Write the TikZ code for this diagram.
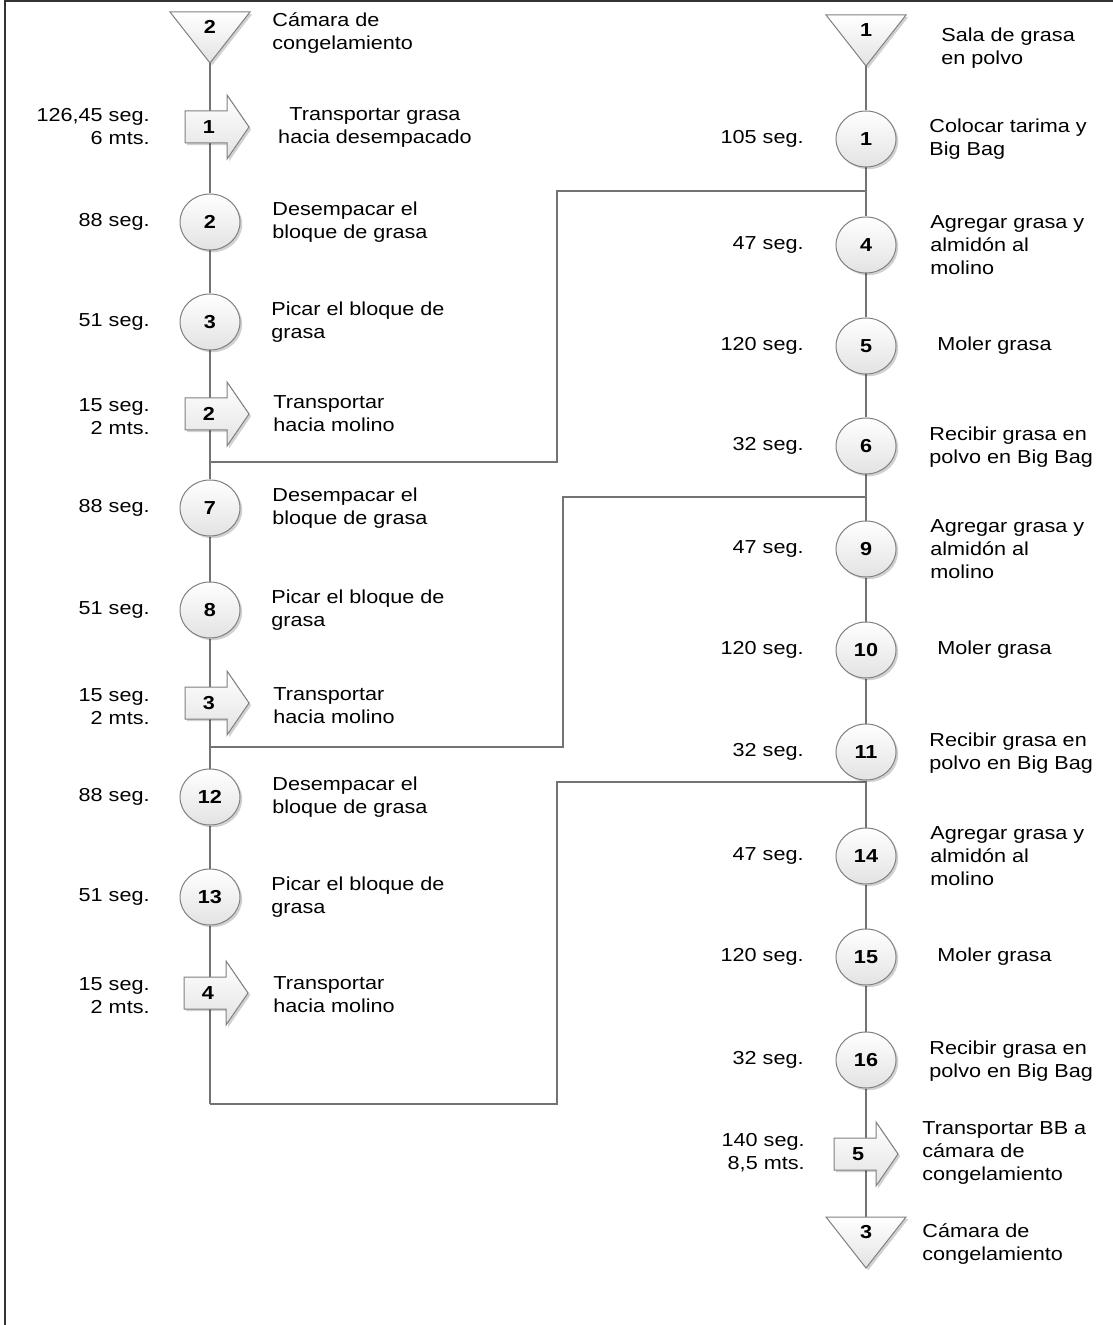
\documentclass[tikz,border=0pt]{standalone}
\usepackage{fontspec}
\setmainfont{Liberation Sans}[FakeStretch=1.15]
\usetikzlibrary{shapes.geometric,shadows,backgrounds}
\pgfdeclarelayer{paper}
\pgfdeclarelayer{background}
\pgfsetlayers{paper,background,main}
\tikzset{
  conn/.style={draw=black!55, line width=0.75pt},
  shp/.style={draw=black!50, line width=0.5pt, top color=white, bottom color=black!11,
    drop shadow={shadow xshift=1.1pt, shadow yshift=-1.1pt, opacity=0.18, fill=black}},
  opn/.style={shp, ellipse, minimum width=30pt, minimum height=28pt, inner sep=0pt,
    font=\fontsize{9.4}{11}\selectfont\bfseries},
  num/.style={inner sep=0pt, font=\fontsize{9.4}{11}\selectfont\bfseries},
  desc/.style={anchor=west, align=left, inner sep=0pt, font=\fontsize{9.4}{11.5}\selectfont},
  tim/.style={anchor=east, align=right, inner sep=0pt, font=\fontsize{9.4}{11.5}\selectfont},
}
\newcommand\storagetri[4]{%
  \path[shp] (#2-40,#3) -- (#2+40,#3) -- (#2,#3+51) -- cycle;
  \coordinate (#1) at (#2,#3+51);
  \node[num] (#1n) at (#2,#3+15) {#4};}
\newcommand\transparrow[4]{%
  \path[shp] (#2,#3-16) -- (#2+42,#3-16) -- (#2+42,#3-32) -- (#2+64,#3)
     -- (#2+42,#3+32) -- (#2+42,#3+16) -- (#2,#3+16) -- cycle;
  \node[num] (#1) at (#2+24,#3) {#4};}
\begin{document}
\begin{tikzpicture}[x=0.5pt,y=-0.5pt]
\useasboundingbox (0,0) rectangle (1112,1325);
\begin{pgfonlayer}{paper}
\fill[white] (0,0) rectangle (1112,1325);
\end{pgfonlayer}
\draw[line width=1pt, black!80] (5,1330) -- (5,1) -- (1116,1) -- (1116,1330);

% ---------- left column ----------
\storagetri{tL}{210}{12}{2}
\node[desc] (dL0) at (272,33) {Cámara de\\congelamiento};
\transparrow{aL1}{185}{127}{1}
\node[tim] (tL1) at (150,127) {126,45 seg.\\6 mts.};
\node[align=center, inner sep=0pt, font=\fontsize{9.4}{11.5}\selectfont] (dL1) at (375,127) {Transportar grasa\\hacia desempacado};

\node[opn] (c2) at (210,222) {2};
\node[tim] at (150,222) {88 seg.};
\node[desc] at (272,222) {Desempacar el\\bloque de grasa};

\node[opn] (c3) at (210,322) {3};
\node[tim] at (150,322) {51 seg.};
\node[desc] at (271,322) {Picar el bloque de\\grasa};

\transparrow{aL2}{185}{414}{2}
\node[tim] at (150,417) {15 seg.\\2 mts.};
\node[desc] at (273,414) {Transportar\\hacia molino};

\node[opn] (c7) at (210,508) {7};
\node[tim] at (150,508) {88 seg.};
\node[desc] at (272,508) {Desempacar el\\bloque de grasa};

\node[opn] (c8) at (210,610) {8};
\node[tim] at (150,610) {51 seg.};
\node[desc] at (271,610) {Picar el bloque de\\grasa};

\transparrow{aL3}{185}{703}{3}
\node[tim] at (150,707) {15 seg.\\2 mts.};
\node[desc] at (273,706) {Transportar\\hacia molino};

\node[opn] (c12) at (210,797) {12};
\node[tim] at (150,797) {88 seg.};
\node[desc] at (272,797) {Desempacar el\\bloque de grasa};

\node[opn] (c13) at (210,897) {13};
\node[tim] at (150,897) {51 seg.};
\node[desc] at (271,897) {Picar el bloque de\\grasa};

\transparrow{aL4}{184}{993}{4}
\node[tim] at (150,996) {15 seg.\\2 mts.};
\node[desc] at (273,995) {Transportar\\hacia molino};

% ---------- right column ----------
\storagetri{tR1}{866}{15}{1}
\node[desc] at (941,48) {Sala de grasa\\en polvo};

\node[opn] (r1) at (866,139) {1};
\node[tim] at (804,139) {105 seg.};
\node[desc] at (929,139) {Colocar tarima y\\Big Bag};

\node[opn] (r4) at (866,245) {4};
\node[tim] at (804,245) {47 seg.};
\node[desc] at (930,245) {Agregar grasa y\\almidón al\\molino};

\node[opn] (r5) at (866,346) {5};
\node[tim] at (804,346) {120 seg.};
\node[desc] at (937,346) {Moler grasa};

\node[opn] (r6) at (866,446) {6};
\node[tim] at (804,446) {32 seg.};
\node[desc] at (929,447) {Recibir grasa en\\polvo en Big Bag};

\node[opn] (r9) at (866,549) {9};
\node[tim] at (804,549) {47 seg.};
\node[desc] at (930,549) {Agregar grasa y\\almidón al\\molino};

\node[opn] (r10) at (866,650) {10};
\node[tim] at (804,650) {120 seg.};
\node[desc] at (937,650) {Moler grasa};

\node[opn] (r11) at (866,752) {11};
\node[tim] at (804,752) {32 seg.};
\node[desc] at (929,753) {Recibir grasa en\\polvo en Big Bag};

\node[opn] (r14) at (866,856) {14};
\node[tim] at (804,856) {47 seg.};
\node[desc] at (930,856) {Agregar grasa y\\almidón al\\molino};

\node[opn] (r15) at (866,957) {15};
\node[tim] at (804,957) {120 seg.};
\node[desc] at (937,957) {Moler grasa};

\node[opn] (r16) at (866,1060) {16};
\node[tim] at (804,1060) {32 seg.};
\node[desc] at (929,1061) {Recibir grasa en\\polvo en Big Bag};

\transparrow{aR5}{834}{1154}{5}
\node[tim] at (805,1153) {140 seg.\\8,5 mts.};
\node[desc] at (922,1153) {Transportar BB a\\cámara de\\congelamiento};

\storagetri{tR3}{866}{1217}{3}
\node[desc] at (922,1244) {Cámara de\\congelamiento};

% junction coordinates
\coordinate (j1) at (210,462);
\coordinate (m1) at (557,191);
\coordinate (e1) at (866,191);
\coordinate (j2) at (210,747);
\coordinate (m2) at (563,497);
\coordinate (e2) at (866,497);
\coordinate (j3) at (210,1104);
\coordinate (m3) at (557,782);
\coordinate (e3) at (866,782);

\begin{pgfonlayer}{background}
\draw[conn] (tL) -- (c2);
\draw[conn] (c2) -- (c3);
\draw[conn] (c3) -- (c7);
\draw[conn] (c7) -- (c8);
\draw[conn] (c8) -- (c12);
\draw[conn] (c12) -- (c13);
\draw[conn] (c13) -- (j3);
\draw[conn] (j1) -| (m1) -- (e1);
\draw[conn] (j2) -| (m2) -- (e2);
\draw[conn] (j3) -| (m3) -- (e3);
\draw[conn] (tR1) -- (r1);
\draw[conn] (r1) -- (r4);
\draw[conn] (r4) -- (r5);
\draw[conn] (r5) -- (r6);
\draw[conn] (r6) -- (r9);
\draw[conn] (r9) -- (r10);
\draw[conn] (r10) -- (r11);
\draw[conn] (r11) -- (r14);
\draw[conn] (r14) -- (r15);
\draw[conn] (r15) -- (r16);
\draw[conn] (r16) -- (tR3);
\end{pgfonlayer}
\end{tikzpicture}
\end{document}
